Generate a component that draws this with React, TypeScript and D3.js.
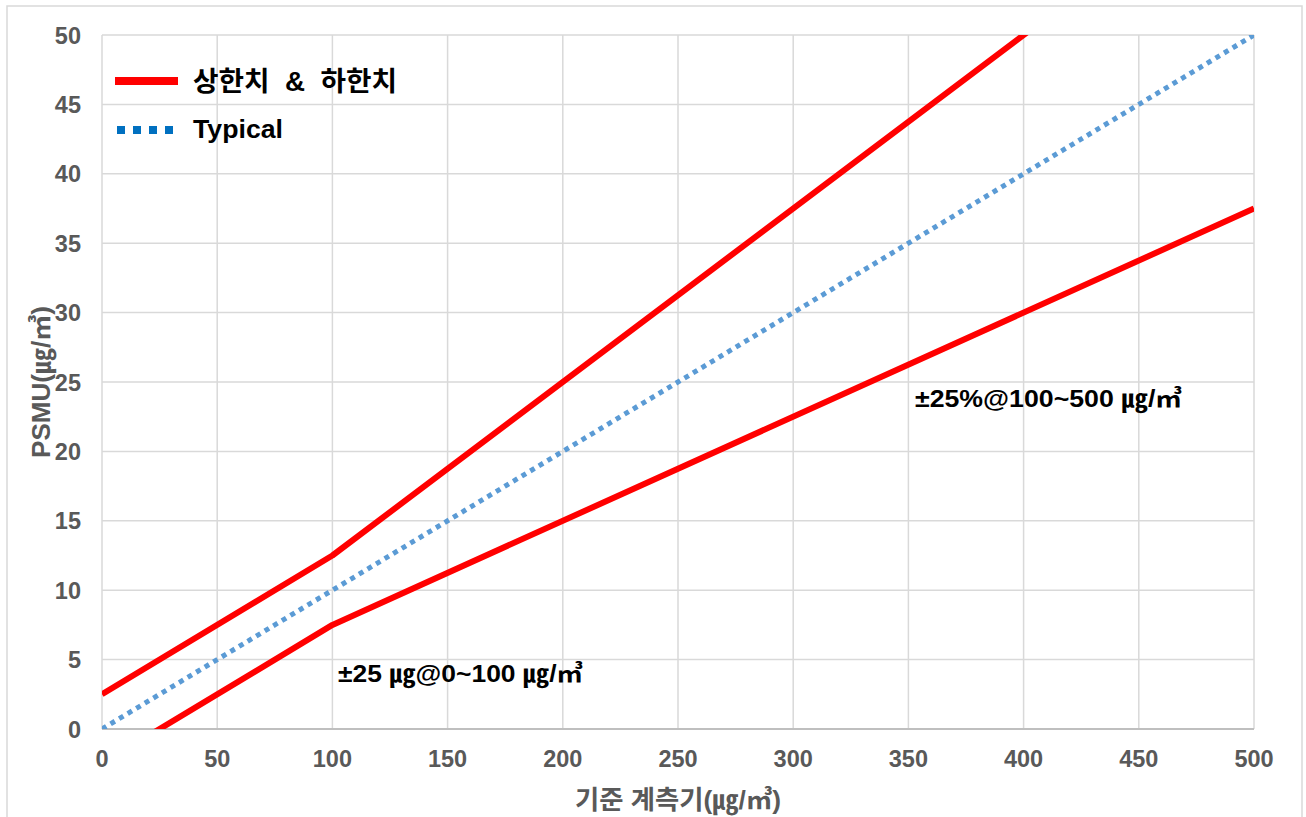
import React, { useEffect, useRef } from "react";
import { select, scaleLinear, line, range } from "d3";

const W = 1306;
const H = 817;

// reference meter (x) break points
const refPoints = [0, 100, 500];
const upperLimit = [2.5, 12.5, 62.5];
const lowerLimit = [-2.5, 7.5, 37.5];
const typicalX = [0, 500];
const typicalY = [0, 50];

const xTicks = range(0, 501, 50);
const yTicks = range(0, 51, 5);

const FONT = "'Liberation Sans', Arial, 'Noto Sans CJK KR', sans-serif";

const App = () => {
  const svgRef = useRef(null);

  useEffect(() => {
    const svg = select(svgRef.current);
    svg.selectAll("*").remove();

    const margin = { left: 102, right: 52, top: 35, bottom: 88 };
    const xScale = scaleLinear()
      .domain([0, 500])
      .range([margin.left, W - margin.right]);
    const yScale = scaleLinear()
      .domain([0, 50])
      .range([H - margin.bottom, margin.top]);

    // outer frame
    svg
      .append("rect")
      .attr("x", 7)
      .attr("y", 6)
      .attr("width", 1295)
      .attr("height", 820)
      .attr("fill", "#fff")
      .attr("stroke", "#d9d9d9")
      .attr("stroke-width", 1.5);

    svg
      .append("defs")
      .append("clipPath")
      .attr("id", "plot-clip")
      .append("rect")
      .attr("x", xScale(0))
      .attr("y", yScale(50))
      .attr("width", xScale(500) - xScale(0))
      .attr("height", yScale(0) - yScale(50));

    const grid = svg.append("g");
    grid
      .selectAll("line.v")
      .data(xTicks)
      .enter()
      .append("line")
      .attr("x1", (d) => xScale(d))
      .attr("x2", (d) => xScale(d))
      .attr("y1", yScale(0))
      .attr("y2", yScale(50))
      .attr("stroke", "#d9d9d9")
      .attr("stroke-width", 1.5);
    grid
      .selectAll("line.h")
      .data(yTicks)
      .enter()
      .append("line")
      .attr("x1", xScale(0))
      .attr("x2", xScale(500))
      .attr("y1", (d) => yScale(d))
      .attr("y2", (d) => yScale(d))
      .attr("stroke", (d) => (d === 0 ? "#bfbfbf" : "#d9d9d9"))
      .attr("stroke-width", (d) => (d === 0 ? 2 : 1.5));

    // tick labels
    svg
      .append("g")
      .selectAll("text")
      .data(yTicks)
      .enter()
      .append("text")
      .attr("x", 81)
      .attr("y", (d) => yScale(d) + 8.5)
      .attr("text-anchor", "end")
      .attr("font-family", FONT)
      .attr("font-weight", "bold")
      .attr("font-size", 23.5)
      .attr("fill", "#595959")
      .text((d) => d);

    svg
      .append("g")
      .selectAll("text")
      .data(xTicks)
      .enter()
      .append("text")
      .attr("x", (d) => xScale(d))
      .attr("y", 767)
      .attr("text-anchor", "middle")
      .attr("font-family", FONT)
      .attr("font-weight", "bold")
      .attr("font-size", 23.5)
      .attr("fill", "#595959")
      .text((d) => d);

    // axis titles
    svg
      .append("text")
      .attr("transform", `translate(50,${(yScale(0) + yScale(50)) / 2}) rotate(-90)`)
      .attr("text-anchor", "middle")
      .attr("font-family", FONT)
      .attr("font-weight", "bold")
      .attr("font-size", 25)
      .attr("fill", "#595959")
      .attr("textLength", 152)
      .attr("lengthAdjust", "spacingAndGlyphs")
      .text("PSMU(㎍/㎥)");

    svg
      .append("text")
      .attr("x", (xScale(0) + xScale(500)) / 2)
      .attr("y", 809)
      .attr("text-anchor", "middle")
      .attr("font-family", FONT)
      .attr("font-weight", "bold")
      .attr("font-size", 26)
      .attr("fill", "#595959")
      .attr("textLength", 206)
      .attr("lengthAdjust", "spacingAndGlyphs")
      .text("기준 계측기(㎍/㎥)");

    // series
    const plot = svg.append("g").attr("clip-path", "url(#plot-clip)");
    const lineGen = line<number>()
      .x((d, i) => xScale(refPoints[i]))
      .y((d) => yScale(d));

    plot
      .append("path")
      .datum(typicalY)
      .attr(
        "d",
        line<number>()
          .x((d, i) => xScale(typicalX[i]))
          .y((d) => yScale(d))
      )
      .attr("fill", "none")
      .attr("stroke", "#5b9bd5")
      .attr("stroke-width", 5)
      .attr("stroke-dasharray", "5 5");

    [upperLimit, lowerLimit].forEach((s) => {
      plot
        .append("path")
        .datum(s)
        .attr("d", lineGen)
        .attr("fill", "none")
        .attr("stroke", "#ff0000")
        .attr("stroke-width", 6)
        .attr("stroke-linejoin", "round");
    });

    // annotations
    const notes = [
      { x: 338, y: 682, w: 245, t: "±25 ㎍@0~100 ㎍/㎥" },
      { x: 915, y: 407, w: 267, t: "±25%@100~500 ㎍/㎥" },
    ];
    svg
      .append("g")
      .selectAll("text")
      .data(notes)
      .enter()
      .append("text")
      .attr("x", (d) => d.x)
      .attr("y", (d) => d.y)
      .attr("font-family", FONT)
      .attr("font-weight", "bold")
      .attr("font-size", 23.5)
      .attr("fill", "#000")
      .attr("textLength", (d) => d.w)
      .attr("lengthAdjust", "spacingAndGlyphs")
      .text((d) => d.t);

    // legend
    const legend = svg.append("g");
    legend
      .append("line")
      .attr("x1", 115)
      .attr("x2", 178)
      .attr("y1", 81)
      .attr("y2", 81)
      .attr("stroke", "#ff0000")
      .attr("stroke-width", 8);
    legend
      .append("text")
      .attr("x", 193)
      .attr("y", 91)
      .attr("font-family", FONT)
      .attr("font-weight", "bold")
      .attr("font-size", 27)
      .attr("fill", "#000")
      .attr("xml:space", "preserve")
      .attr("textLength", 204)
      .attr("lengthAdjust", "spacingAndGlyphs")
      .text("상한치  &  하한치");
    legend
      .append("line")
      .attr("x1", 117)
      .attr("x2", 173)
      .attr("y1", 130)
      .attr("y2", 130)
      .attr("stroke", "#0070c0")
      .attr("stroke-width", 8)
      .attr("stroke-dasharray", "8 8");
    legend
      .append("text")
      .attr("x", 193)
      .attr("y", 138)
      .attr("font-family", FONT)
      .attr("font-weight", "bold")
      .attr("font-size", 25)
      .attr("fill", "#000")
      .attr("textLength", 90)
      .attr("lengthAdjust", "spacingAndGlyphs")
      .text("Typical");
  }, []);

  return (
    <div style={{ position: "absolute", left: 0, top: 0 }}>
      <svg ref={svgRef} width={W} height={H} style={{ display: "block" }}></svg>
    </div>
  );
};

export default App;
